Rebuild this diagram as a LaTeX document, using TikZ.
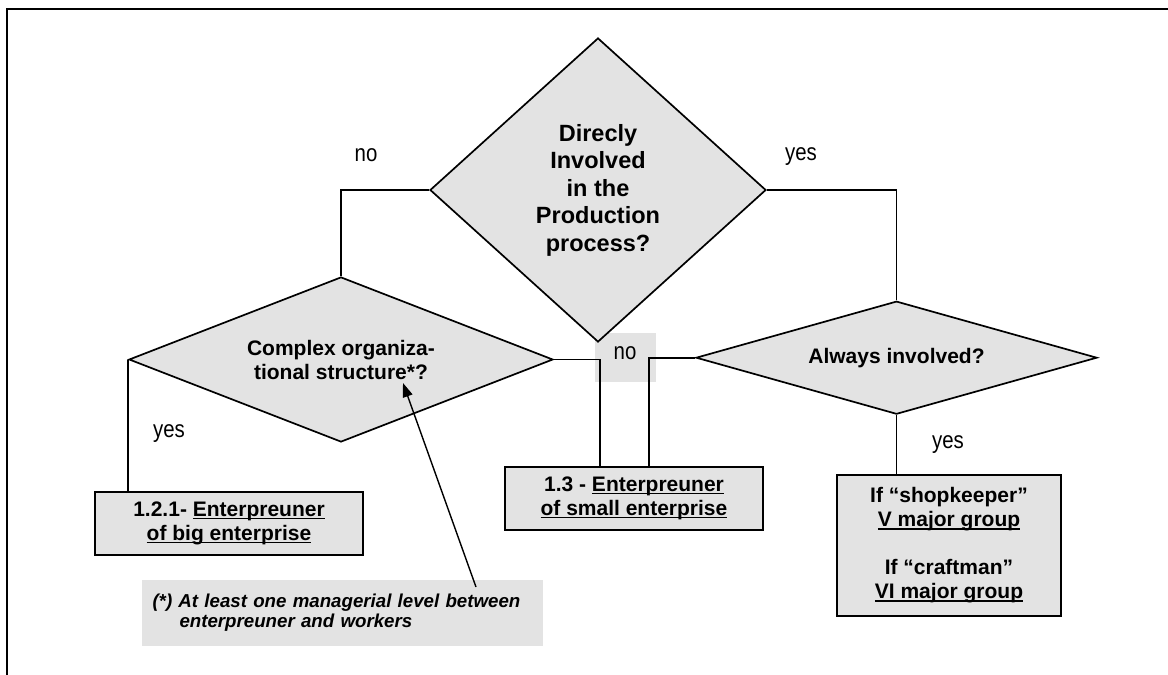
\documentclass[tikz,border=0pt]{standalone}
\usepackage{fontspec}
\setmainfont{Liberation Sans}
\newfontfamily\lblfont{Liberation Sans}[FakeStretch=0.85]
\usetikzlibrary{shapes.geometric,arrows.meta}
\definecolor{boxgray}{gray}{0.89}
\newlength\ulw
\newcommand\myul[1]{\settowidth{\ulw}{#1}\rlap{\rule[-2.8pt]{\ulw}{1.4pt}}#1}
\begin{document}
\begin{tikzpicture}[x=1pt,y=-1pt,
  dia/.style={diamond, draw, line width=1.7pt, fill=boxgray, inner sep=0pt, align=center,
    font=\bfseries\fontsize{21}{24}\selectfont},
  box/.style={rectangle, draw, line width=2.2pt, fill=boxgray, inner sep=0pt, align=center,
    font=\bfseries\fontsize{21}{24}\selectfont},
  lbl/.style={font=\lblfont\fontsize{24}{26}\selectfont, inner sep=0pt},
  conn/.style={line width=1.7pt}]
\useasboundingbox (0,0) rectangle (1168,675);
\fill[white] (0,0) rectangle (1168,675);
\draw[line width=2pt] (7,675) -- (7,9) -- (1168,9);

% background of bottom "no" label
\fill[boxgray] (595,333) rectangle (656,382);

% decisions
\node[dia, minimum width=336pt, minimum height=304pt,
  font=\bfseries\fontsize{23.5}{27.5}\selectfont] (d1) at (598,190)
  {Direcly\\Involved\\in the\\Production\\process?};
\node[dia, minimum width=424pt, minimum height=165pt, aspect=2.5] (d2) at (341,359.5)
  {Complex organiza-\\tional structure*?};
\node[dia, minimum width=401pt, minimum height=113pt, aspect=3.5] (d3) at (896.5,357.7)
  {Always involved?};

% results
\node[box, minimum width=268pt, minimum height=63pt] (b1) at (229,523.5)
  {1.2.1- \myul{Enterpreuner}\\\myul{of big enterprise}};
\node[box, minimum width=258pt, minimum height=63pt] (b2) at (634,498.5)
  {1.3 - \myul{Enterpreuner}\\\myul{of small enterprise}};
\node[box, minimum width=224pt, minimum height=141pt] (b3) at (949,545.5)
  {If “shopkeeper”\\\myul{V major group}\\[24pt]If “craftman”\\\myul{VI major group}};

% footnote
\node[fill=boxgray, minimum width=401pt, minimum height=66pt, text width=380pt,
  align=left, inner sep=0pt, font=\bfseries\itshape\fontsize{18.7}{20}\selectfont]
  (fn) at (342.5,613)
  {(*) At least one managerial level between\\\hspace*{27pt}enterpreuner and workers};

% connectors
\draw[conn] (d1.west) -| (d2.north);
\draw[conn] (d1.east) -| (d3.north);
\draw[conn] (d2.west) -- (d2.west |- b1.north);
\draw[conn] (d2.east) -| ([xshift=-34pt]b2.north);
\draw[conn] (d3.west) -| ([xshift=15pt]b2.north);
\draw[conn] (d3.south) -- (d3.south |- b3.north);

\coordinate (tail) at (476,587);
\coordinate (tip) at (403,383);
\draw[line width=1.4pt, -{Triangle[length=14pt,width=10pt]}] (tail) -- (tip);

% labels
\node[lbl] (l1) at (366,155) {no};
\node[lbl] (l2) at (801,157) {yes};
\node[lbl] (l3) at (169,434) {yes};
\node[lbl] (l4) at (625,353) {no};
\node[lbl] (l5) at (948,445) {yes};
\end{tikzpicture}
\end{document}
